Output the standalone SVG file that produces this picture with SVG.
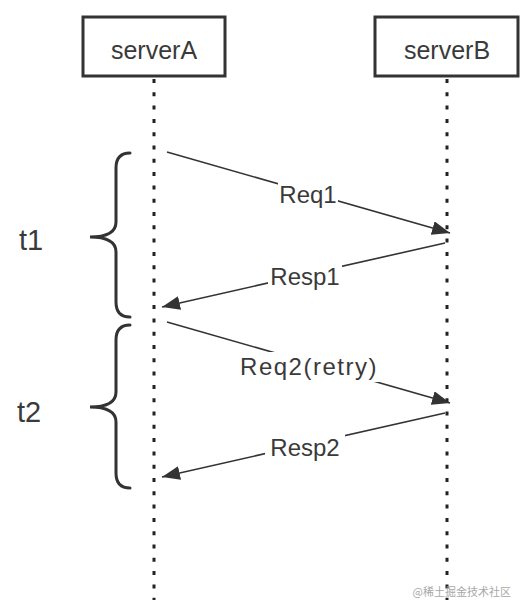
<svg xmlns="http://www.w3.org/2000/svg" width="526" height="613" viewBox="0 0 526 613">
<style>
.box{fill:#fff;stroke:#333;stroke-width:3}
.life{stroke:#222;stroke-width:3;stroke-dasharray:4 9.3;fill:none}
.msg{stroke:#333;stroke-width:1.6;fill:none}
.lbl{font-family:"Liberation Sans",Arial,sans-serif;font-size:24px;fill:#3a3a3a;text-anchor:middle}
.srv{font-size:25px}
.bg{fill:#fff}
.brace{fill:none;stroke:#333;stroke-width:3;stroke-linecap:round}
.t{font-family:"Liberation Sans",Arial,sans-serif;font-size:29px;fill:#3a3a3a}
.wm{font-family:"Noto Sans CJK SC",sans-serif;font-size:11px;fill:#a8a8a8;text-anchor:end}
</style>
<defs>
<marker id="ah" markerUnits="userSpaceOnUse" markerWidth="20" markerHeight="14" refX="18" refY="7" orient="auto">
<path d="M0,0 L18,7 L0,14 Z" fill="#333"/>
</marker>
</defs>
<rect width="526" height="613" fill="#fff"/>
<g id="serverA">
<line class="life" x1="154" y1="79" x2="154" y2="600"/>
<rect class="box" x="83" y="17" width="142" height="59"/>
<text class="lbl srv" x="154" y="59">serverA</text>
</g>
<g id="serverB">
<line class="life" x1="447" y1="79" x2="447" y2="600"/>
<rect class="box" x="375" y="17" width="143" height="59"/>
<text class="lbl srv" x="447" y="59">serverB</text>
</g>
<g id="connectors">
<line class="msg" x1="167" y1="152" x2="450" y2="233" marker-end="url(#ah)"/>
<rect class="bg" x="278" y="181" width="60" height="27"/>
<text class="lbl" x="308" y="203">Req1</text>
<line class="msg" x1="445" y1="243" x2="162" y2="307" marker-end="url(#ah)"/>
<rect class="bg" x="268" y="263" width="74" height="27"/>
<text class="lbl" x="305" y="285">Resp1</text>
<line class="msg" x1="167" y1="322" x2="450" y2="403" marker-end="url(#ah)"/>
<rect class="bg" x="238" y="352" width="142" height="30"/>
<text class="lbl" x="309" y="375" letter-spacing="1.5">Req2(retry)</text>
<line class="msg" x1="445" y1="413" x2="162" y2="477" marker-end="url(#ah)"/>
<rect class="bg" x="265" y="434" width="80" height="27"/>
<text class="lbl" x="305" y="456">Resp2</text>
</g>
<g id="t1">
<path class="brace" d="M130,153 Q116,153 116,168 L116,222 Q116,237 90,237 Q116,237 116,252 L116,302 Q116,317 130,317"/>
<text class="t" x="19" y="250">t1</text>
</g>
<g id="t2">
<path class="brace" d="M130,325 Q116,325 116,340 L116,392 Q116,407 90,407 Q116,407 116,422 L116,473 Q116,488 130,488"/>
<text class="t" x="17" y="422">t2</text>
</g>
<text class="wm" x="511" y="596">@稀土掘金技术社区</text>
</svg>
